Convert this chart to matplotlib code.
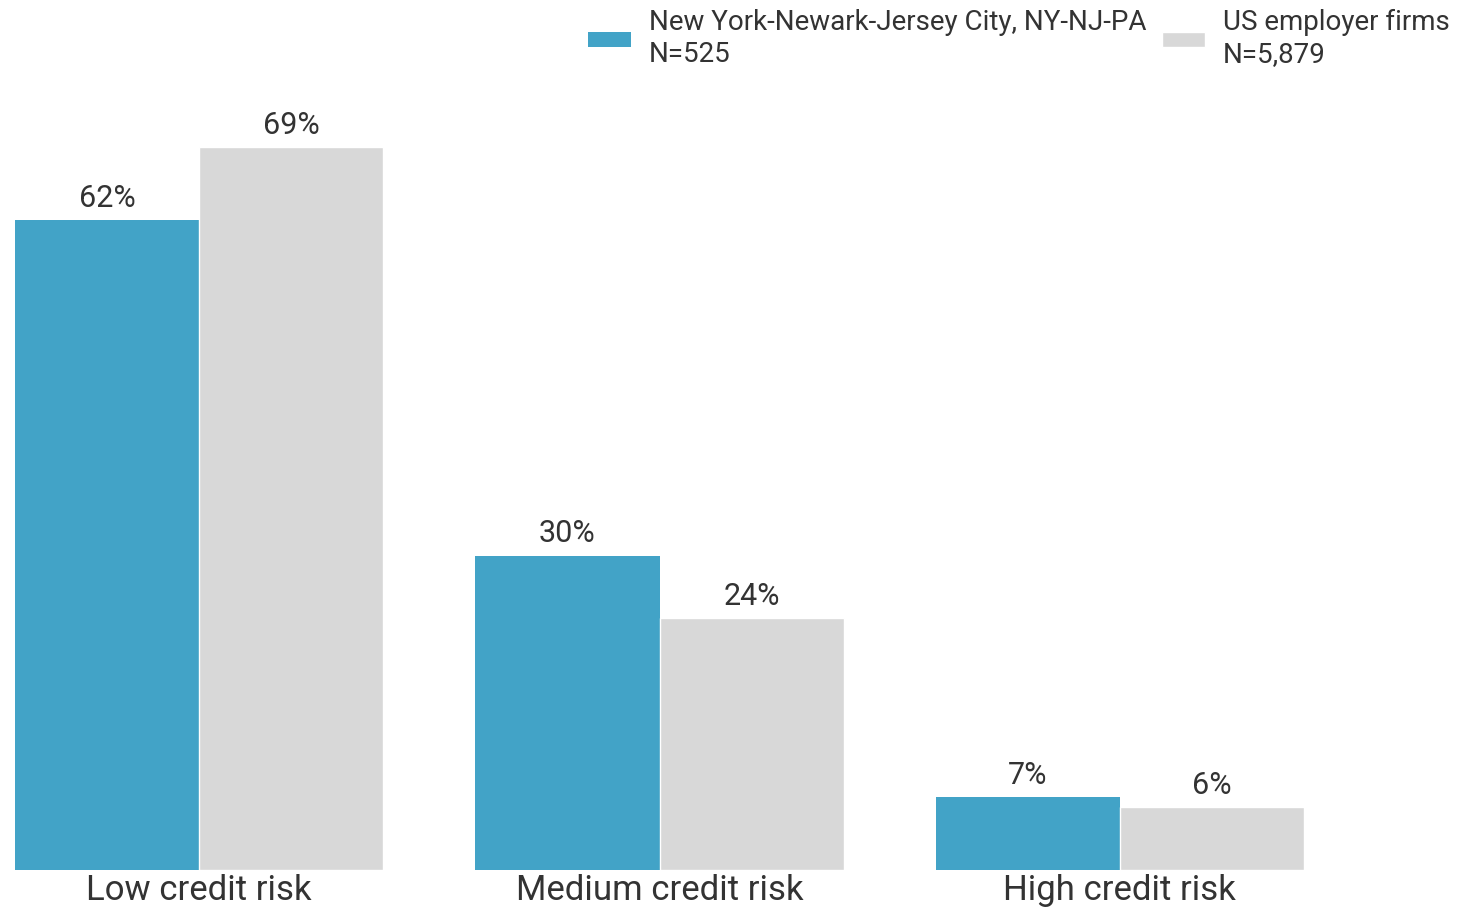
import matplotlib
matplotlib.use("Agg")
import matplotlib.pyplot as plt
import numpy as np

categories = ["Low credit risk", "Medium credit risk", "High credit risk"]
series_names = ["New York-Newark-Jersey City, NY-NJ-PA\nN=525", "US employer firms\nN=5,879"]
ny_values = [62, 30, 7]
us_values = [69, 24, 6]
colors = ["#42a3c7", "#d8d8d8"]

plt.rcParams['font.family'] = ['Roboto', 'DejaVu Sans']
text_color = "#333333"

fig = plt.figure(figsize=(14.6, 9.14), dpi=100)
ax = fig.add_axes([15/1460, 44/914, (1304-15)/1460, (870-100)/914])

x = np.arange(len(categories))
w = 0.4
b1 = ax.bar(x - w/2, ny_values, width=w, color=colors[0], label=series_names[0])
b2 = ax.bar(x + w/2, us_values, width=w, color=colors[1], label=series_names[1],
            edgecolor="white", linewidth=1)

for bars, vals in ((b1, ny_values), (b2, us_values)):
    for r, v in zip(bars, vals):
        ax.text(r.get_x() + r.get_width()/2, v + 1.25, f"{v}%", ha="center", va="baseline",
                fontsize=22, color=text_color)

ax.set_xlim(-0.4, 2.4)
ax.set_ylim(0, (870-100)/10.48)
ax.set_xticks(x)
ax.set_xticklabels(categories, fontsize=25, color=text_color)
ax.tick_params(axis="x", length=0, pad=3)
ax.set_yticks([])
for s in ax.spines.values():
    s.set_visible(False)

leg = fig.legend(handles=[b1, b2], labels=series_names, loc="upper right",
                 bbox_to_anchor=(1455/1460, 0.996), ncol=2, frameon=False, fontsize=20,
                 handlelength=1.55, handleheight=0.47, handletextpad=0.65, columnspacing=0.55,
                 labelcolor=text_color, borderaxespad=0.1, borderpad=0.1)
for t in leg.get_texts():
    t.set_linespacing(1.25)

fig.savefig("out.png", dpi=100, facecolor="white")
